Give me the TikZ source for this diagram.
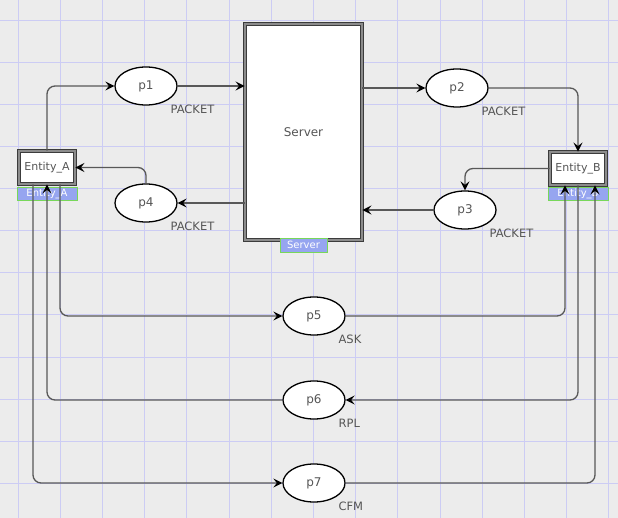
\documentclass[tikz,border=0pt]{standalone}
\usepackage{fontspec}
\setmainfont{DejaVu Sans}
\usetikzlibrary{arrows.meta, shapes.geometric, positioning}
\definecolor{petribg}{RGB}{236,236,236}
\definecolor{petrigrid}{RGB}{204,204,244}
\definecolor{petriline}{RGB}{88,88,88}
\definecolor{petridark}{RGB}{60,60,60}
\definecolor{petriband}{RGB}{140,140,140}
\definecolor{petritag}{RGB}{150,165,240}
\definecolor{petrigreen}{RGB}{120,215,90}
\definecolor{petritext}{RGB}{85,85,85}

\begin{document}
\begin{tikzpicture}[x=1pt, y=-1pt,
    place/.style={draw=black, line width=1.3pt, fill=white, ellipse,
                  minimum width=62pt, minimum height=38pt, inner sep=0pt,
                  font=\fontsize{12}{14}\selectfont, text=petritext},
    module/.style={draw=petridark, double=petriband, double distance=2.5pt,
                   line width=0.9pt, fill=white, inner sep=0pt, text=petritext},
    tag/.style={draw=petrigreen, fill=petritag, text=white, line width=0.8pt,
                inner sep=0pt, minimum height=13pt, font=\fontsize{10}{10}\selectfont},
    colset/.style={font=\fontsize{11.5}{13}\selectfont, text=petritext,
                   inner sep=0pt, below right=5pt and 2pt of #1},
    arc/.style={-{Stealth[length=9pt, width=9pt, inset=3.5pt, color=black]},
                line width=1.3pt, petriline, rounded corners=8pt}
  ]
    \useasboundingbox (0,0) rectangle (618,518);
    \fill[petribg] (0,0) rectangle (618,518);
    \foreach \gx in {18,60.2,...,612} \draw[petrigrid, line width=1pt] (\gx,0) -- (\gx,518);
    \foreach \gy in {21,63,...,518} \draw[petrigrid, line width=1pt] (0,\gy) -- (618,\gy);

    \node[module, minimum width=117pt, minimum height=216pt,
          font=\fontsize{12}{14}\selectfont] (server) at (303.5,132) {Server};
    \node[module, minimum width=56pt, minimum height=33pt,
          font=\fontsize{11}{13}\selectfont] (entA) at (47,167.5) {Entity\_A};
    \node[module, minimum width=56pt, minimum height=33pt,
          font=\fontsize{11}{13}\selectfont] (entB) at (578,168.5) {Entity\_B};

    \node[tag, minimum width=60pt] (tagA) at (47,193.5) {Entity\_A};
    \node[tag, minimum width=60pt] (tagB) at (578,194) {Entity\_B};
    \node[tag, minimum width=47pt, minimum height=14pt] (tagS) at (303.5,245) {Server};

    \node[place] (p1) at (146,86) {p1};
    \node[place] (p2) at (457,88) {p2};
    \node[place] (p3) at (465,210) {p3};
    \node[place] (p4) at (146,203) {p4};
    \node[place] (p5) at (314,316) {p5};
    \node[place] (p6) at (314,400) {p6};
    \node[place] (p7) at (314,483) {p7};

    \node[colset=p1] (cs1) {PACKET};
    \node[colset=p2] (cs2) {PACKET};
    \node[colset=p3] (cs3) {PACKET};
    \node[colset=p4] (cs4) {PACKET};
    \node[colset=p5] (cs5) {ASK};
    \node[colset=p6] (cs6) {RPL};
    \node[colset=p7] (cs7) {CFM};

    \draw[arc] (entA.north) |- (p1.west);
    \draw[arc] (p1.east) -- (p1.east -| server.west);
    \draw[arc] (server.east |- p2.west) -- (p2.west);
    \draw[arc] (p2.east) -| (entB.north);
    \draw[arc] (entB.west) -| (p3.north);
    \draw[arc] (p3.west) -- (p3.west -| server.east);
    \draw[arc] (server.west |- p4.east) -- (p4.east);
    \draw[arc] (p4.north) |- (entA.east);

    % messages between the two entities
    \draw[arc] ([xshift=13pt]entA.south) |- (p5.west);
    \draw[arc] (p5.east) -| ([xshift=-13pt]entB.south);
    \draw[arc] (entB.south) |- (p6.east);
    \draw[arc] (p6.west) -| (entA.south);
    \draw[arc] ([xshift=-14pt]entA.south) |- (p7.west);
    \draw[arc] (p7.east) -| ([xshift=17pt]entB.south);
  \end{tikzpicture}
\end{document}
